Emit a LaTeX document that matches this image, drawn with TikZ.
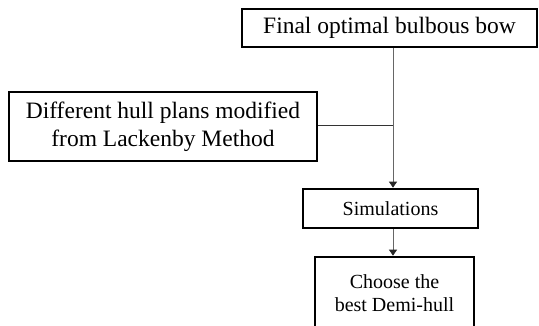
\documentclass[tikz,border=0pt]{standalone}
\usepackage{fontspec}
\setmainfont{Liberation Serif}
\usetikzlibrary{arrows.meta}
\tikzset{
  boxbig/.style={draw=black, line width=2.7pt, fill=white, inner sep=0pt, align=center,
    font=\fontsize{23.5}{28}\selectfont},
  boxsmall/.style={draw=black, line width=2.7pt, fill=white, inner sep=0pt, align=center,
    font=\fontsize{20}{25}\selectfont},
  conn/.style={draw=black!60, line width=0.8pt},
  arr/.style={conn, -{Triangle[width=8pt,length=6pt,fill=black!85,color=black!85]}}
}
\begin{document}
\begin{tikzpicture}[x=1pt,y=-1pt]
\clip (0,0) rectangle (539,325);
\fill[white] (0,0) rectangle (539,325);
\node[boxbig, minimum width=295pt, minimum height=38pt] (top) at (389.5,28) {Final optimal bulbous bow};
\node[boxbig, minimum width=308pt, minimum height=69pt] (left) at (163,126.5) {Different hull plans modified\\from Lackenby Method};
\node[boxsmall, minimum width=175pt, minimum height=39pt] (sim) at (390.5,208.5) {Simulations};
\node[boxsmall, minimum width=159pt, minimum height=72pt, text depth=0pt] (choose) at (394.5,293) {\raisebox{14pt}{\begin{tabular}{c}Choose the\\[-2pt]best Demi-hull\end{tabular}}};
\coordinate (j) at (393,125);
\draw[arr] (top.south -| j) -- (sim.north -| j);
\draw[conn, draw=black!80] (left.east |- j) -- (j);
\draw[arr] (sim.south -| j) -- (choose.north -| j);
\end{tikzpicture}
\end{document}
